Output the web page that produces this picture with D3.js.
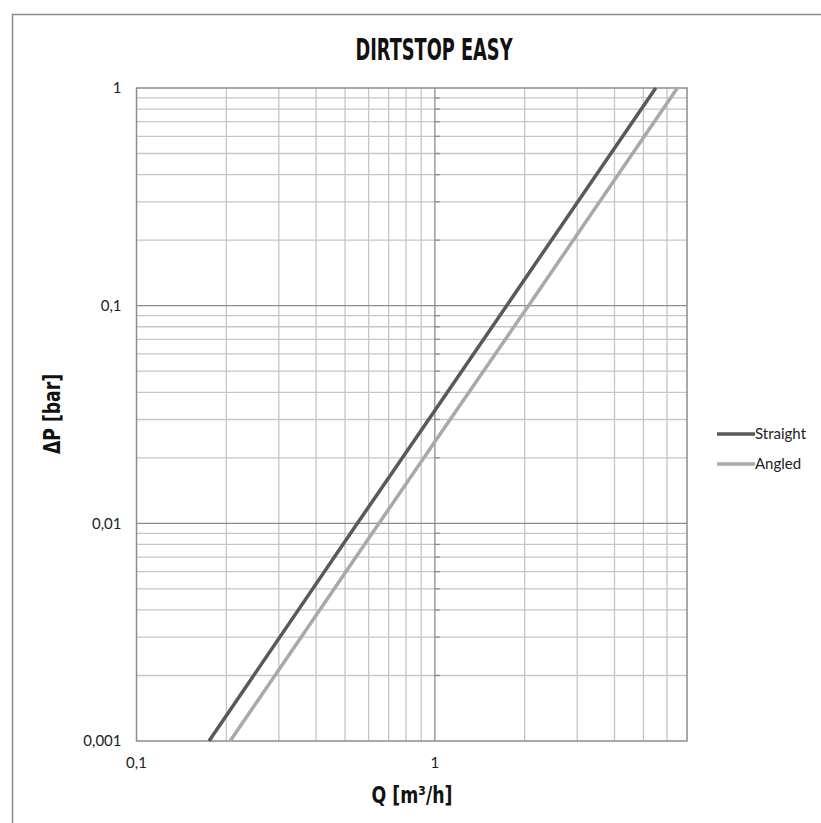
<!DOCTYPE html>
<html>
<head>
<meta charset="utf-8">
<script src="https://cdn.jsdelivr.net/npm/d3@7"></script>
<style>
  body { margin: 0; background: #fff; }
  svg { display: block; }
  .tick-label { font-family: Lato, "Open Sans", sans-serif; font-size: 15px; fill: #222; }
  .bold-title { font-family: "DejaVu Sans Condensed", "Liberation Sans Narrow", sans-serif; font-weight: bold; fill: #111; }
</style>
</head>
<body>
<svg width="821" height="823"></svg>
<script>
// series: Q [m3/h] against dP [bar]
var seriesNames = ["Straight", "Angled"];
var seriesColors = ["#595959", "#a9a9a9"];
var straightQ = [0.175, 0.55, 1, 1.74, 5.5];
var straightDP = [0.001, 0.01, 0.033, 0.1, 1];
var angledQ = [0.206, 0.65, 1, 2.06, 6.5];
var angledDP = [0.001, 0.01, 0.0237, 0.1, 1];

var xTickValues = [0.1, 1];
var xTickLabels = ["0,1", "1"];
var yTickValues = [0.001, 0.01, 0.1, 1];
var yTickLabels = ["0,001", "0,01", "0,1", "1"];
var xDomain = [0.1, 7];
var yDomain = [0.001, 1];

var svg = d3.select("svg");
var plotLeft = 136.5, plotRight = 687, plotTop = 88, plotBottom = 741;

// outer chart border (only left and top visible in the crop)
svg.append("path")
    .attr("d", "M12.5,823 V14.5 H821")
    .attr("fill", "none")
    .attr("stroke", "#8a8a8a")
    .attr("stroke-width", 1.5);

var x = d3.scaleLog().domain(xDomain).range([plotLeft, plotRight]);
var y = d3.scaleLog().domain(yDomain).range([plotBottom, plotTop]);

// minor grid values, 2..9 in each decade
var xMinor = [], yMinor = [];
[0.1, 1].forEach(function(dec) {
    for (var k = 2; k <= 9; k++) {
        if (dec * k < xDomain[1]) xMinor.push(dec * k);
    }
});
[0.001, 0.01, 0.1].forEach(function(dec) {
    for (var k = 2; k <= 9; k++) yMinor.push(dec * k);
});

var g = svg.append("g");

g.selectAll(".vminor").data(xMinor).enter().append("line")
    .attr("x1", function(d) { return x(d); })
    .attr("x2", function(d) { return x(d); })
    .attr("y1", plotTop).attr("y2", plotBottom)
    .attr("stroke", "#c6c6c6").attr("stroke-width", 1.3);

g.selectAll(".hminor").data(yMinor).enter().append("line")
    .attr("y1", function(d) { return y(d); })
    .attr("y2", function(d) { return y(d); })
    .attr("x1", plotLeft).attr("x2", plotRight)
    .attr("stroke", "#c6c6c6").attr("stroke-width", 1.3);

g.selectAll(".hmajor").data([0.01, 0.1]).enter().append("line")
    .attr("y1", function(d) { return y(d); })
    .attr("y2", function(d) { return y(d); })
    .attr("x1", plotLeft).attr("x2", plotRight)
    .attr("stroke", "#8c8c8c").attr("stroke-width", 1.3);

g.append("line")
    .attr("x1", x(1)).attr("x2", x(1))
    .attr("y1", plotTop).attr("y2", plotBottom)
    .attr("stroke", "#8c8c8c").attr("stroke-width", 1.3);

// small minor ticks where the value axis crosses at Q = 1
g.selectAll(".ytick").data(yMinor).enter().append("line")
    .attr("y1", function(d) { return y(d); })
    .attr("y2", function(d) { return y(d); })
    .attr("x1", x(1)).attr("x2", x(1) + 5)
    .attr("stroke", "#8c8c8c").attr("stroke-width", 1.3);

// plot frame
g.append("rect")
    .attr("x", plotLeft).attr("y", plotTop)
    .attr("width", plotRight - plotLeft).attr("height", plotBottom - plotTop)
    .attr("fill", "none")
    .attr("stroke", "#8c8c8c").attr("stroke-width", 1.5);

// tick labels
svg.selectAll(".ylab").data(yTickValues).enter().append("text")
    .attr("class", "tick-label")
    .attr("x", plotLeft - 15)
    .attr("y", function(d) { return y(d); })
    .attr("dy", "0.35em")
    .attr("text-anchor", "end")
    .text(function(d, i) { return yTickLabels[i]; });

svg.selectAll(".xlab").data(xTickValues).enter().append("text")
    .attr("class", "tick-label")
    .attr("x", function(d) { return x(d); })
    .attr("y", 768)
    .attr("text-anchor", "middle")
    .text(function(d, i) { return xTickLabels[i]; });

// series lines
var data = [
    d3.zip(straightQ, straightDP),
    d3.zip(angledQ, angledDP)
];
var line = d3.line()
    .x(function(d) { return x(d[0]); })
    .y(function(d) { return y(d[1]); });

svg.append("g").selectAll("path").data(data).enter().append("path")
    .attr("d", line)
    .attr("fill", "none")
    .attr("stroke", function(d, i) { return seriesColors[i]; })
    .attr("stroke-width", 3.5);

// titles
svg.append("text")
    .attr("class", "bold-title")
    .attr("x", 434).attr("y", 60)
    .attr("text-anchor", "middle")
    .attr("font-size", 31)
    .attr("textLength", 157)
    .attr("lengthAdjust", "spacingAndGlyphs")
    .text("DIRTSTOP EASY");

svg.append("text")
    .attr("class", "bold-title")
    .attr("x", 412).attr("y", 803)
    .attr("text-anchor", "middle")
    .attr("font-size", 23)
    .attr("textLength", 81)
    .attr("lengthAdjust", "spacingAndGlyphs")
    .text("Q [m³/h]");

svg.append("text")
    .attr("class", "bold-title")
    .attr("transform", "translate(60,414) rotate(-90)")
    .attr("text-anchor", "middle")
    .attr("font-size", 23)
    .attr("textLength", 80)
    .attr("lengthAdjust", "spacingAndGlyphs")
    .text("ΔP [bar]");

// legend
var legend = svg.append("g").selectAll("g").data(seriesNames).enter().append("g")
    .attr("transform", function(d, i) { return "translate(717," + (434 + i * 30) + ")"; });
legend.append("line")
    .attr("x1", 0).attr("x2", 38)
    .attr("stroke", function(d, i) { return seriesColors[i]; })
    .attr("stroke-width", 3.5);
legend.append("text")
    .attr("class", "tick-label")
    .attr("x", 38).attr("dy", "0.35em")
    .text(function(d) { return d; });
</script>
</body>
</html>
